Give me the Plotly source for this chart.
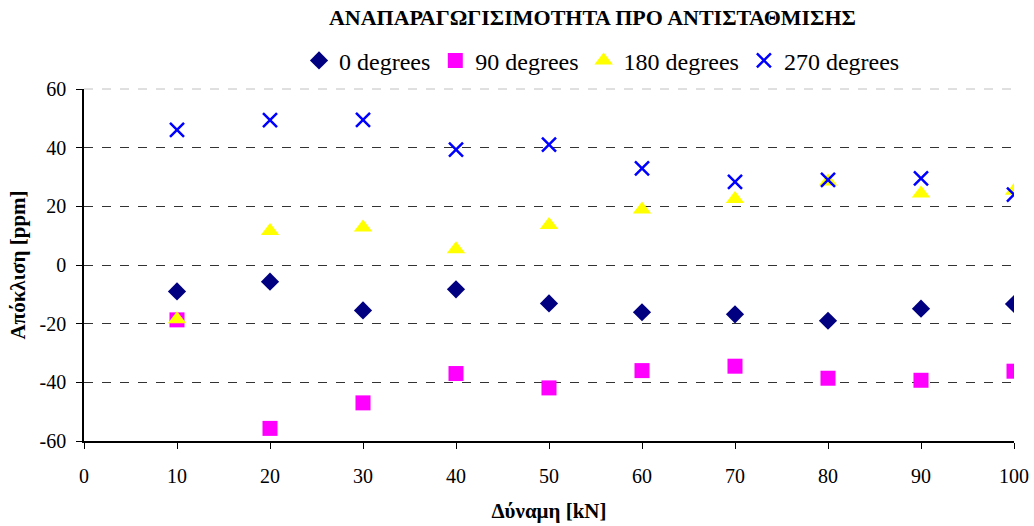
import plotly.graph_objects as go

force_kN = [10, 20, 30, 40, 50, 60, 70, 80, 90, 100]
dev_0 = [-9.0, -5.7, -15.5, -8.3, -13.1, -16.1, -16.8, -19.0, -14.9, -13.3]
dev_90 = [-18.7, -55.7, -47.0, -37.0, -41.9, -36.0, -34.5, -38.6, -39.3, -36.2]
dev_180 = [-18.5, 11.6, 12.8, 5.4, 13.6, 18.9, 22.5, 28.5, 24.4, 25.3]
dev_270 = [46.1, 49.4, 49.5, 39.3, 41.0, 32.9, 28.3, 29.0, 29.5, 24.0]
x_ticks = [0, 10, 20, 30, 40, 50, 60, 70, 80, 90, 100]
y_ticks = [-60, -40, -20, 0, 20, 40, 60]
y_tick_labels = ["-60", "-40", "-20", "0", "20", "40", "60"]

font_family = "Liberation Serif"

fig = go.Figure()
fig.add_trace(go.Scatter(x=force_kN, y=dev_0, mode="markers", name="0 degrees",
                         marker=dict(symbol="diamond", size=14, color="#000080")))
fig.add_trace(go.Scatter(x=force_kN, y=dev_90, mode="markers", name="90 degrees",
                         marker=dict(symbol="square", size=15, color="#FF00FF")))
fig.add_trace(go.Scatter(x=force_kN, y=dev_180, mode="markers", name="180 degrees",
                         marker=dict(symbol="triangle-up", size=16, color="#FFFF00")))
fig.add_trace(go.Scatter(x=force_kN, y=dev_270, mode="markers", name="270 degrees",
                         marker=dict(symbol="x-thin", size=14, color="#0000FF",
                                     line=dict(color="#0000FF", width=2.5))))

# light dashed border along the top of the plot area
fig.add_shape(type="line", xref="x domain", yref="y domain", x0=0, x1=1, y0=1, y1=1,
              line=dict(color="#c0c0c0", width=1, dash="dash"), layer="below")

fig.update_layout(
    width=1034, height=526,
    margin=dict(l=84, r=20, t=89, b=85, autoexpand=False),
    paper_bgcolor="white", plot_bgcolor="white",
    font=dict(family=font_family, color="black", size=20),
    title=dict(text="<b>ΑΝΑΠΑΡΑΓΩΓΙΣΙΜΟΤΗΤΑ ΠΡΟ ΑΝΤΙΣΤΑΘΜΙΣΗΣ</b>",
               x=0.573, xanchor="center", y=0.967, yanchor="middle",
               font=dict(size=22, family=font_family)),
    legend=dict(orientation="h", x=0.557, xanchor="center", y=1.08, yanchor="middle",
                font=dict(size=24, family=font_family), itemwidth=30,
                tracegroupgap=0, bgcolor="rgba(0,0,0,0)"),
    xaxis=dict(range=[0, 100], tickvals=x_ticks, showgrid=False,
               showline=True, linecolor="black", linewidth=1.5,
               ticks="outside", ticklen=6, tickcolor="black",
               ticklabelstandoff=10, tickfont=dict(size=20),
               zeroline=False, automargin=False,
               title=dict(text="<b>Δύναμη [kN]</b>", font=dict(size=21), standoff=18)),
    yaxis=dict(range=[-60, 60], tickvals=y_ticks, ticktext=y_tick_labels, showgrid=True,
               gridcolor="#333333", griddash="dash", gridwidth=1,
               showline=True, linecolor="black", linewidth=1.5,
               ticks="outside", ticklen=6, tickcolor="black",
               ticklabelstandoff=6, tickfont=dict(size=20),
               zeroline=False, automargin=False,
               title=dict(text="<b>Απόκλιση [ppm]</b>", font=dict(size=21), standoff=8)),
)

fig.write_html("out.html")
